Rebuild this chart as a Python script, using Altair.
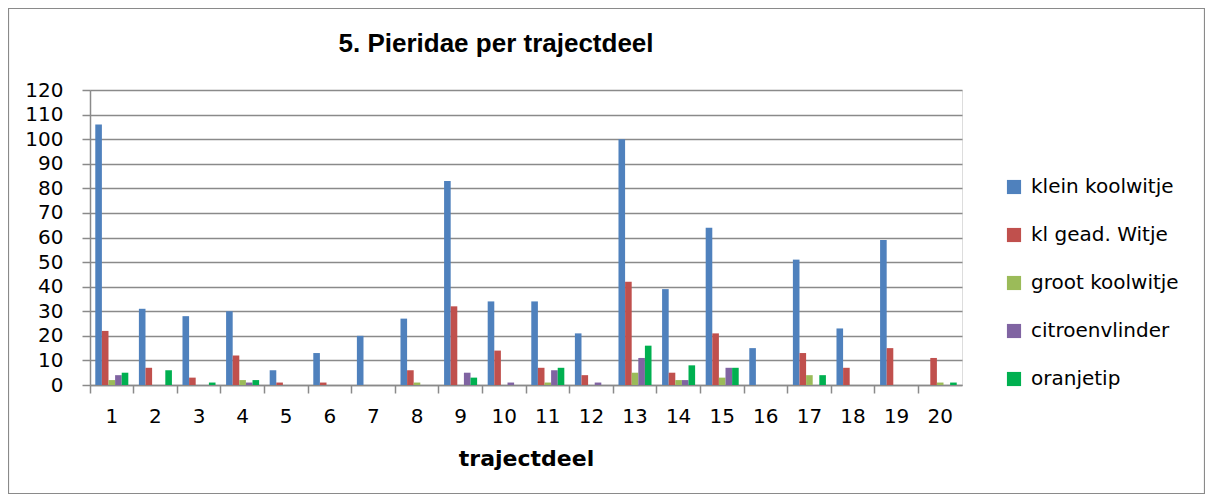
import altair as alt
import pandas as pd

categories = [str(i) for i in range(1, 21)]
series = ["klein koolwitje", "kl gead. Witje", "groot koolwitje", "citroenvlinder", "oranjetip"]
colors = ["#4F81BD", "#C0504D", "#9BBB59", "#8064A2", "#00B050"]

klein_koolwitje = [106, 31, 28, 30, 6, 13, 20, 27, 83, 34, 34, 21, 100, 39, 64, 15, 51, 23, 59, 0]
kl_gead_witje = [22, 7, 3, 12, 1, 1, 0, 6, 32, 14, 7, 4, 42, 5, 21, 0, 13, 7, 15, 11]
groot_koolwitje = [2, 0, 0, 2, 0, 0, 0, 1, 0, 0, 1, 0, 5, 2, 3, 0, 4, 0, 0, 1]
citroenvlinder = [4, 0, 0, 1, 0, 0, 0, 0, 5, 1, 6, 1, 11, 2, 7, 0, 0, 0, 0, 0]
oranjetip = [5, 6, 1, 2, 0, 0, 0, 0, 3, 0, 7, 0, 16, 8, 7, 0, 4, 0, 0, 1]

y_ticks = list(range(0, 121, 10))
chart_title = "5. Pieridae per trajectdeel"

rows = []
for s, vals in zip(series, [klein_koolwitje, kl_gead_witje, groot_koolwitje, citroenvlinder, oranjetip]):
    for c, v in zip(categories, vals):
        rows.append({"trajectdeel": c, "soort": s, "aantal": v})
df = pd.DataFrame(rows)

W, H = 872, 295
PL, PT, PR, PB = 82, 82, 243, 109
FONT = "DejaVu Sans"
TFONT = "Liberation Sans"
GRAY = "#8a8a8a"

bars = alt.Chart(df).mark_bar().encode(
    x=alt.X(
        "trajectdeel:N", sort=categories,
        scale=alt.Scale(paddingInner=0, paddingOuter=0),
        axis=alt.Axis(
            title="trajectdeel", labelAngle=0, bandPosition=0,
            labelFontSize=20, labelFont=FONT, labelColor="#000",
            titleFontSize=22, titleFont=FONT, titleFontWeight="bold", titleColor="#000",
            titlePadding=22, labelPadding=13,
            domainColor=GRAY, domainWidth=1.5, tickColor=GRAY, tickWidth=1.5, tickSize=8,
        ),
    ),
    xOffset=alt.XOffset("soort:N", sort=series, scale=alt.Scale(paddingOuter=0.8, paddingInner=0)),
    y=alt.Y(
        "aantal:Q", scale=alt.Scale(domain=[0, 120], nice=False),
        axis=alt.Axis(
            title=None, values=y_ticks, labelFontSize=20, labelFont=FONT, labelColor="#000",
            labelPadding=19, tickSize=8, tickColor=GRAY, tickWidth=1.5,
            domainColor=GRAY, domainWidth=1.5, gridColor=GRAY, gridWidth=1.5,
        ),
    ),
    color=alt.Color(
        "soort:N", sort=series,
        scale=alt.Scale(domain=series, range=colors),
        legend=alt.Legend(
            title=None, orient="none", legendX=914, legendY=87, symbolType="square",
            symbolSize=200, symbolStrokeWidth=0, labelFontSize=20, labelFont=FONT,
            labelColor="#000", rowPadding=28, labelOffset=7,
        ),
    ),
)

border = alt.Chart(pd.DataFrame({"b": [0]})).mark_rect(
    fill=None, stroke=GRAY, strokeWidth=1.2
).encode(
    x=alt.value(-PL + 0.5), x2=alt.value(W + PR - 0.5),
    y=alt.value(-PT + 0.5), y2=alt.value(H + PB - 0.5),
)

title_text = alt.Chart(pd.DataFrame({"t": [chart_title]})).mark_text(
    fontSize=26, font=TFONT, fontWeight="bold", color="#000", align="center", baseline="alphabetic"
).encode(
    text="t:N", x=alt.value(406), y=alt.value(-38),
)

chart = alt.layer(border, bars, title_text).properties(
    width=W, height=H,
    padding={"left": PL, "top": PT, "right": PR, "bottom": PB},
    autosize=alt.AutoSizeParams(type="none"),
).configure_view(stroke=None).configure(background="white")

chart.save("out.html", embed_options={"renderer": "svg", "actions": False})
